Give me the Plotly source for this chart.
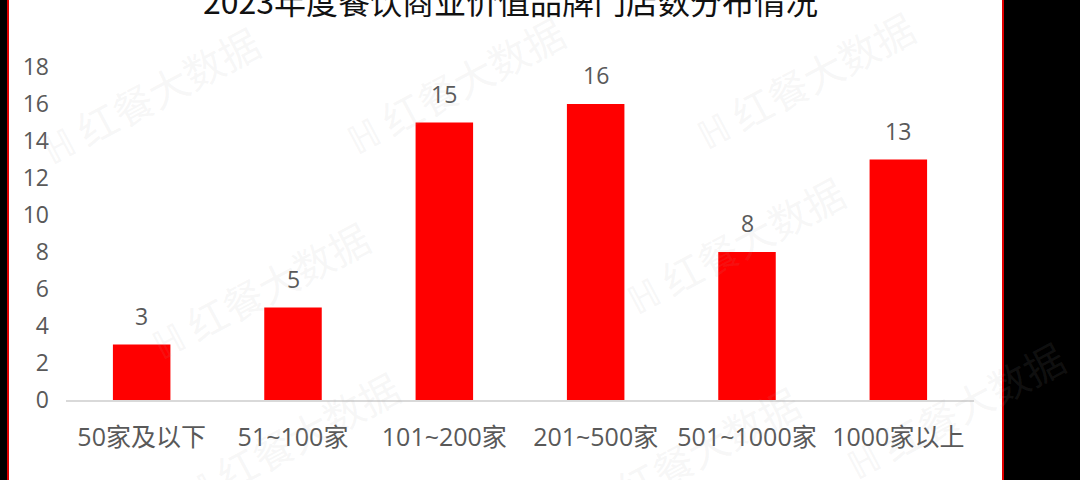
import plotly.graph_objects as go

categories = ["50家及以下", "51~100家", "101~200家", "201~500家", "501~1000家", "1000家以上"]
values = [3, 5, 15, 16, 8, 13]
y_ticks = [0, 2, 4, 6, 8, 10, 12, 14, 16, 18]
title_text = "2023年度餐饮商业价值品牌门店数分布情况"
watermark = "红餐大数据"

W, H = 1080, 480
L, R, T, B = 66, 106, 67, 80
pw, ph = W - L - R, H - T - B

def px_x(x):
    return (x - L) / pw

def px_y(y):
    return (H - B - y) / ph

FONT = "Open Sans, Noto Sans CJK SC, sans-serif"
TFONT = "Noto Sans CJK SC, sans-serif"
GRAY = "#595959"

fig = go.Figure()
fig.add_trace(go.Bar(
    x=categories, y=values,
    marker=dict(color="#FF0000", line=dict(width=0)),
    hoverinfo="skip",
))

annotations = []
for c, v in zip(categories, values):
    annotations.append(dict(
        x=c, y=v, xref="x", yref="y", text=str(v), showarrow=False,
        yanchor="bottom", yshift=11, font=dict(size=23, color=GRAY, family=FONT),
    ))

annotations.append(dict(
    x=px_x(510), y=px_y(0), xref="paper", yref="paper", text=title_text,
    showarrow=False, xanchor="center", yanchor="middle",
    font=dict(size=32, color="#111111", family=TFONT),
))

wm_pos = [(150, 95), (455, 85), (805, 80), (260, 290), (735, 245), (290, 440), (690, 455), (955, 410)]
for (wx, wy) in wm_pos:
    annotations.append(dict(
        x=px_x(wx), y=px_y(wy), xref="paper", yref="paper", text="ℍ " + watermark,
        showarrow=False, xanchor="center", yanchor="middle", textangle=-28,
        font=dict(size=40, color="rgba(170,170,170,0.10)", family=TFONT),
    ))

shapes = [
    dict(type="rect", xref="paper", yref="paper",
         x0=px_x(-20), x1=px_x(7), y0=px_y(H + 10), y1=px_y(-10),
         fillcolor="black", line=dict(width=0), layer="below"),
    dict(type="rect", xref="paper", yref="paper",
         x0=px_x(8), x1=px_x(1003), y0=px_y(H + 10), y1=px_y(-10),
         fillcolor="white", line=dict(color="#E00000", width=2), layer="below"),
]

fig.update_layout(
    width=W, height=H,
    margin=dict(l=L, r=R, t=T, b=B),
    paper_bgcolor="black",
    plot_bgcolor="rgba(0,0,0,0)",
    showlegend=False,
    bargap=0.62,
    shapes=shapes,
    annotations=annotations,
    font=dict(family=FONT, color=GRAY),
    xaxis=dict(
        type="category", range=[-0.5, 5.5], showgrid=False, zeroline=False,
        showline=True, linecolor="#D9D9D9", linewidth=1.5,
        ticks="", tickfont=dict(size=25, color=GRAY, family=FONT),
        ticklabelstandoff=14,
    ),
    yaxis=dict(
        range=[0, 18], tickvals=y_ticks, showgrid=False, zeroline=False,
        showline=False, ticks="", tickfont=dict(size=23, color=GRAY, family=FONT),
        ticklabelstandoff=16,
    ),
)

fig.write_html(
    "out.html",
    config={"displayModeBar": False},
    post_script="document.body.style.margin='0';document.body.style.background='black';document.body.style.overflow='hidden';",
)
